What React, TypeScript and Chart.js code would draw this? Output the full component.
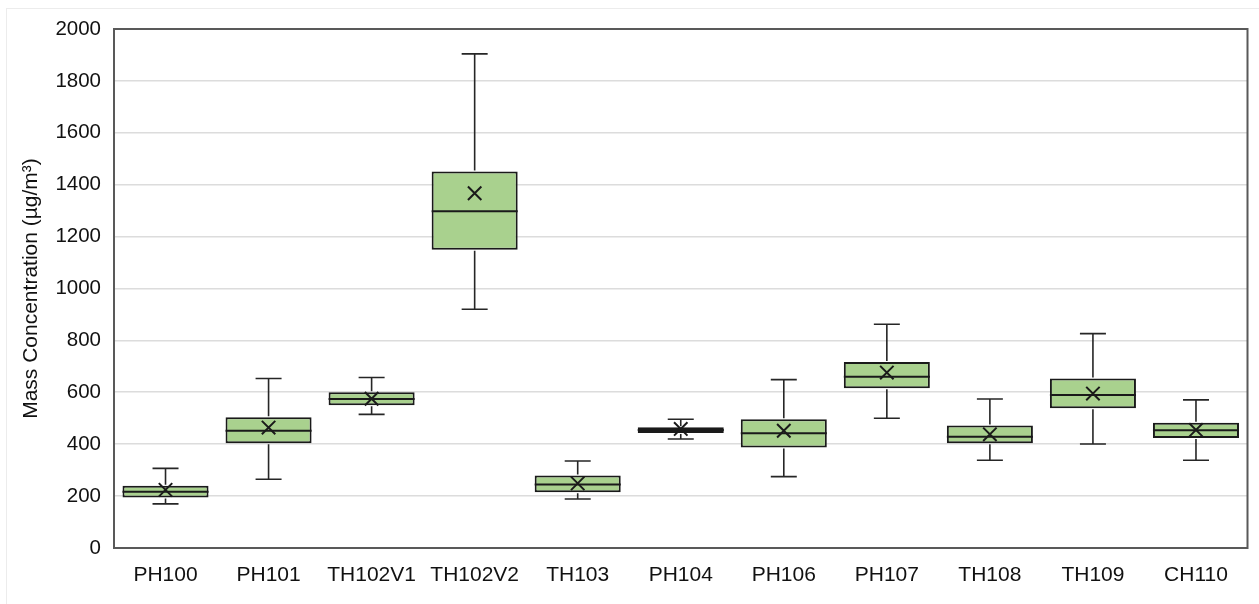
import { useEffect, useRef } from "react";
import { Chart, registerables } from "chart.js";

Chart.register(...registerables);

// Sampling sites along the x axis
const sites = ["PH100", "PH101", "TH102V1", "TH102V2", "TH103", "PH104", "PH106", "PH107", "TH108", "TH109", "CH110"];

// Five-number summaries and means, µg/m³
const minima = [170, 265, 515, 920, 189, 420, 275, 500, 338, 401, 338];
const lowerQuartiles = [195, 404, 550, 1149, 215, 443, 387, 616, 404, 539, 424];
const medians = [217, 452, 574, 1298, 245, 455, 442, 660, 429, 590, 454];
const upperQuartiles = [240, 504, 600, 1451, 279, 465, 496, 717, 472, 653, 483];
const maxima = [307, 653, 657, 1904, 335, 496, 649, 862, 574, 826, 571];
const means = [224, 464, 575, 1367, 249, 459, 452, 676, 438, 595, 455];

// Y axis range
const yMin = 0;
const yMax = 2000;
const yStep = 200;

const INK = "#111111";
const BOX_FILL = "#a9d18e";
const FONT = "'Liberation Sans', Arial, sans-serif";

// Whiskers, caps and median lines for each box, drawn right after the boxes
const whiskerPlugin = {
  id: "whiskers",
  afterDatasetDraw(chart: any, args: any) {
    if (args.index !== 0) return;
    const y = chart.scales.y;
    const ctx = chart.ctx;
    ctx.save();
    args.meta.data.forEach((bar: any, i: number) => {
      const { x, width } = bar.getProps(["x", "width"], true);
      const half = width / 2;
      const cap = 13;
      const pMin = y.getPixelForValue(minima[i]);
      const pMax = y.getPixelForValue(maxima[i]);
      const pQ1 = y.getPixelForValue(lowerQuartiles[i]);
      const pQ3 = y.getPixelForValue(upperQuartiles[i]);
      const pMed = y.getPixelForValue(medians[i]);

      ctx.strokeStyle = "#262626";
      ctx.lineWidth = 1.6;
      ctx.beginPath();
      ctx.moveTo(x, pQ3 - 1);
      ctx.lineTo(x, pMax);
      ctx.moveTo(x, pQ1 + 1);
      ctx.lineTo(x, pMin);
      ctx.moveTo(x - cap, pMax);
      ctx.lineTo(x + cap, pMax);
      ctx.moveTo(x - cap, pMin);
      ctx.lineTo(x + cap, pMin);
      ctx.stroke();

      ctx.strokeStyle = "#1a1a1a";
      ctx.lineWidth = 2;
      ctx.beginPath();
      ctx.moveTo(x - half, pMed);
      ctx.lineTo(x + half, pMed);
      ctx.stroke();
    });
    ctx.restore();
  },
};

// Dark frame around the plotting area
const framePlugin = {
  id: "frame",
  beforeDatasetsDraw(chart: any) {
    const { left, top, right, bottom } = chart.chartArea;
    const ctx = chart.ctx;
    ctx.save();
    ctx.strokeStyle = "#595959";
    ctx.lineWidth = 2;
    ctx.strokeRect(left, top, right - left, bottom - top);
    ctx.restore();
  },
};

export default function App() {
  const canvasRef = useRef<HTMLCanvasElement | null>(null);

  useEffect(() => {
    const canvas = canvasRef.current;
    if (!canvas) return;
    const boxes = sites.map((_, i) => [lowerQuartiles[i], upperQuartiles[i]]);

    const chart = new Chart(canvas, {
      type: "bar",
      data: {
        labels: sites,
        datasets: [
          {
            type: "bar",
            label: "Interquartile range",
            data: boxes as any,
            backgroundColor: BOX_FILL,
            borderColor: "#1a1a1a",
            borderWidth: 2,
            borderSkipped: false,
            barPercentage: 0.835,
            categoryPercentage: 1,
            order: 1,
          },
          {
            type: "line",
            label: "Mean",
            data: means,
            showLine: false,
            pointStyle: "crossRot",
            pointRadius: 9.5,
            pointBorderColor: "#1a1a1a",
            pointBorderWidth: 2,
            pointBackgroundColor: "#1a1a1a",
            order: 0,
          } as any,
        ],
      },
      options: {
        responsive: false,
        animation: false,
        events: [],
        layout: { padding: { top: 29, right: 10, left: 0, bottom: 0 } },
        plugins: {
          legend: { display: false },
          tooltip: { enabled: false },
        },
        scales: {
          x: {
            grid: { display: false, drawTicks: false },
            border: { display: false },
            ticks: {
              color: INK,
              padding: 15,
              font: { family: FONT, size: 21 },
              maxRotation: 0,
              autoSkip: false,
            },
            afterFit: (scale: any) => {
              scale.height = 56;
            },
          },
          y: {
            min: yMin,
            max: yMax,
            grid: { color: "#dcdcdc", lineWidth: 1.6, drawTicks: false },
            border: { display: false },
            ticks: {
              stepSize: yStep,
              color: INK,
              padding: 13,
              font: { family: FONT, size: 20.5 },
              callback: (value: any) => String(value),
            },
            title: {
              display: true,
              text: "Mass Concentration (µg/m³)",
              color: INK,
              font: { family: FONT, size: 21 },
              padding: { top: 19, bottom: 0 },
            },
            afterFit: (scale: any) => {
              scale.width = 114;
            },
          },
        },
      },
      plugins: [framePlugin, whiskerPlugin],
    });

    return () => chart.destroy();
  }, []);

  return (
    <div
      style={{
        position: "absolute",
        left: 0,
        top: 0,
        width: 1259,
        height: 604,
        overflow: "hidden",
        background: "#ffffff",
      }}
    >
      <div
        style={{
          position: "absolute",
          left: 6,
          top: 8,
          width: 1270,
          height: 610,
          border: "1px solid #ececec",
        }}
      />
      <canvas
        ref={canvasRef}
        width={1259}
        height={604}
        style={{ position: "absolute", left: 0, top: 0 }}
      />
    </div>
  );
}
